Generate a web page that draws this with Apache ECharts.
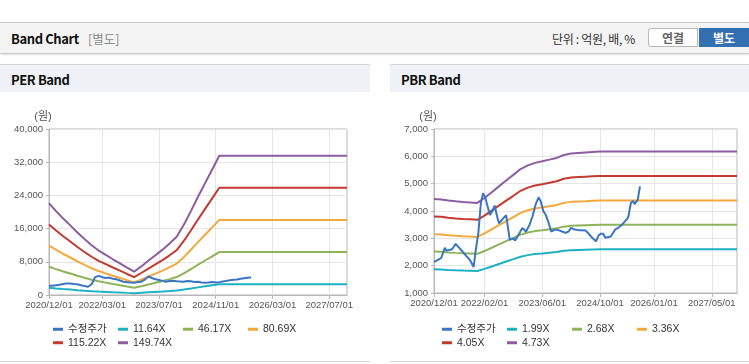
<!DOCTYPE html>
<html><head><meta charset="utf-8">
<script src="https://cdn.jsdelivr.net/npm/echarts@6/dist/echarts.min.js"></script>
<style>
body{margin:0;width:749px;height:364px;overflow:hidden;background:#fff;position:relative;font-family:'Noto Sans CJK KR','Liberation Sans',sans-serif}
.topbar{position:absolute;left:0;top:22px;width:749px;height:30px;background:#f4f4f4;border-top:1px solid #c6c6c6;border-bottom:1px solid #c9c9c9;box-shadow:0 1px 2px rgba(0,0,0,0.12)}
.title{position:absolute;left:11px;top:6px;font-size:13px;font-weight:bold;color:#111;letter-spacing:-0.4px}
.sub{position:absolute;left:88px;top:6px;font-size:12.5px;color:#8a8a8a}
.unit{position:absolute;left:552px;top:7px;font-size:12px;color:#333;letter-spacing:-0.3px}
.btn1{position:absolute;left:648px;top:5px;width:50px;height:19px;background:#fff;border:1px solid #b8b8b8;border-radius:3px 0 0 3px;box-sizing:border-box;font-size:12px;font-weight:bold;color:#666;text-align:center;line-height:17px}
.btn2{position:absolute;left:699px;top:5px;width:50px;height:19px;background:#3270b2;font-size:12px;font-weight:bold;color:#fff;text-align:center;line-height:19px}
.panel{position:absolute;top:64px;height:298px;border-top:1px solid #d4d4d4;border-bottom:1px solid #d4d4d4;box-sizing:border-box;background:#fff}
.phead{position:absolute;left:0;top:0;right:0;height:27px;background:#eef1f6}
.ptitle{position:absolute;left:11px;top:5px;font-size:13px;font-weight:bold;color:#111;letter-spacing:-0.4px}
.chart{position:absolute;top:92px;height:270px}
</style></head><body>
<div class="topbar"><div class="title">Band Chart</div><div class="sub">[별도]</div>
<div class="unit">단위 : 억원, 배, %</div><div class="btn1">연결</div><div class="btn2">별도</div></div>
<div class="panel" style="left:0;width:370px"><div class="phead"><div class="ptitle">PER Band</div></div></div>
<div class="panel" style="left:390px;width:359px"><div class="phead"><div class="ptitle">PBR Band</div></div></div>
<div id="per" class="chart" style="left:0;width:370px"></div>
<div id="pbr" class="chart" style="left:390px;width:359px"></div>
<script>
// x values are month offsets from 2020/12
const perTickMonths = [0, 15, 31, 47, 63, 79];
const perTickLabels = ['2020/12/01','2022/03/01','2023/07/01','2024/11/01','2026/03/01','2027/07/01'];
const pbrTickMonths = [0, 14, 30, 46, 61, 77];
const pbrTickLabels = ['2020/12/01','2022/02/01','2023/06/01','2024/10/01','2026/01/01','2027/05/01'];

const perNames = ['수정주가','11.64X','46.17X','80.69X','115.22X','149.74X'];
const pbrNames = ['수정주가','1.99X','2.68X','3.36X','4.05X','4.73X'];

const perBandMonths = [0,2,4,6,8,10,12,14,16,18,20,22,24,26,28,30,32,34,36,38,40,42,44,46,48,84];
const per1164 = [1718,1571,1432,1304,1170,1048,931,832,751,669,594,512,437,535,640,745,850,966,1092,1315,1571,1839,2095,2351,2610,2610];
const per4617 = [6815,6233,5679,5171,4640,4155,3694,3301,2978,2655,2355,2031,1731,2124,2539,2955,3370,3832,4331,5217,6233,7295,8311,9326,10351,10351];
const per8069 = [11910,10893,9925,9037,8109,7262,6455,5769,5205,4640,4115,3550,3026,3712,4438,5164,5890,6697,7569,9118,10893,12749,14524,16299,18091,18091];
const per11522 = [17007,15555,14172,12905,11580,10370,9218,8238,7432,6625,5876,5070,4321,5300,6337,7374,8411,9563,10808,13020,15555,18205,20740,23274,25832,25832];
const per14974 = [22102,20215,18418,16771,15049,13477,11979,10706,9658,8610,7637,6589,5615,6888,8236,9583,10931,12428,14046,16921,20215,23659,26953,30247,33572,33572];

const perPriceMonths = [0,1,2,3,4,5,6,7,8,9,10,11,12,13,14,15,16,17,18,19,20,21,22,23,24,25,26,27,28,29,30,31,32,33,34,35,36,37,38,39,40,41,42,43,44,45,46,47,48,49,50,51,52,53,54,55,56,57];
const perPrice = [2200,2250,2350,2450,2650,2800,2750,2650,2600,2350,2150,2000,2600,4300,4600,4300,4100,4200,3900,3800,3500,3200,3100,3000,2950,3100,3200,3700,4450,4100,3800,3600,3400,3200,3350,3450,3300,3250,3200,3350,3300,3150,3200,3000,2950,3000,3150,3000,3100,3250,3400,3550,3650,3750,3900,4050,4150,4200];

const pbrBandMonths = [0,2,4,6,8,10,12,14,16,18,20,22,24,26,28,30,32,34,36,38,40,42,44,46,48,84];
const pbr199 = [1868,1861,1845,1833,1823,1815,1807,1883,1972,2062,2151,2239,2328,2386,2424,2448,2474,2499,2545,2567,2575,2583,2591,2597,2597,2597];
const pbr268 = [2516,2506,2484,2468,2455,2444,2433,2535,2656,2776,2897,3015,3136,3213,3264,3296,3331,3366,3428,3457,3468,3479,3489,3497,3497,3497];
const pbr336 = [3154,3142,3115,3095,3078,3064,3051,3179,3330,3481,3632,3780,3931,4029,4092,4133,4176,4220,4297,4334,4348,4361,4375,4385,4385,4385];
const pbr405 = [3802,3787,3754,3730,3710,3694,3677,3831,4014,4196,4378,4556,4739,4856,4933,4982,5034,5087,5180,5225,5241,5257,5273,5285,5285,5285];
const pbr473 = [4440,4423,4385,4356,4333,4314,4295,4475,4687,4900,5113,5321,5534,5671,5761,5818,5879,5941,6050,6102,6121,6140,6158,6173,6173,6173];

const pbrPriceMonths = [0,1,2,3,3.5,4,5,6,7,8,9,10,11,11.5,12.3,13,13.6,14.2,15,15.5,16.2,16.8,17.5,18,19,20,20.5,21,22,22.5,23.5,24.5,25.5,26.5,27.3,28.2,29,29.6,30.3,31,31.7,32.5,33.5,34.5,35.5,36.5,37.3,38,39,40,41,42,43,44,44.9,45.6,46.2,46.9,47.5,47.9,49,50.2,51,51.6,52.3,52.9,53.5,53.9,54.3,54.6,55.2,55.6,56,56.5,57.1];
const pbrPrice = [2135,2200,2280,2650,2550,2500,2600,2800,2650,2500,2350,2200,1950,2500,3200,4300,4650,4500,4100,3850,4000,4200,3800,3550,3700,3850,3400,2950,3000,2920,3150,3380,3250,3500,3800,4250,4500,4350,4000,3850,3600,3250,3320,3300,3250,3200,3250,3380,3320,3300,3300,3290,3150,3000,2890,3100,3170,3170,3020,2975,3065,3315,3380,3440,3520,3620,3700,3800,4100,4300,4360,4250,4195,4415,4900];

const colors = ['#3a75c4','#1fb0c2','#8fb35a','#f2a83a','#c23a30','#8e5ca0'];
const FONT = "'Liberation Sans','Noto Sans CJK KR',sans-serif";

function zip(xs, ys){ return xs.map((x,i)=>[x, ys[i]]); }

function build(cfg){
  const legendPos = [[53,0],[118,0],[183,0],[248,0],[53,1],[118,1]];
  const legends = cfg.names.map((n,i)=>({
    data:[n], left: legendPos[i][0]+cfg.legendShift, top: 232 + legendPos[i][1]*13.5, padding:0,
    icon:'rect', itemWidth:10, itemHeight:3, selectedMode:false,
    textStyle:{fontSize:10.5, color:'#333', fontFamily:FONT}
  }));
  const series = cfg.data.map((d,i)=>({
    name: cfg.names[i], type:'line', data:d, showSymbol:false, symbol:'none',
    lineStyle:{width:2, color:colors[i]}, itemStyle:{color:colors[i]},
    z: i===0 ? 3 : 2
  }));
  // draw price last so it is on top
  const ordered = series.slice(1).concat([series[0]]);
  const lookup = (ticks, labels) => v => { const k = ticks.indexOf(Math.round(v)); return k>=0 ? labels[k] : ''; };
  return {
    animation:false,
    textStyle:{fontFamily:FONT},
    grid:{left:cfg.gridLeft, top:37, width:cfg.gridWidth, height:cfg.gridHeight, show:true, borderColor:'#b7b7b7', borderWidth:1, backgroundColor:'transparent'},
    xAxis:{type:'value', min:0, max:84,
      axisLine:{lineStyle:{color:'#b7b7b7'}},
      axisTick:{show:true, customValues:cfg.ticks, length:4, lineStyle:{color:'#b7b7b7'}},
      axisLabel:{customValues:cfg.ticks, formatter:lookup(cfg.ticks,cfg.tickLabels), fontSize:9.5, color:'#555', margin:6, hideOverlap:false},
      splitLine:{show:true, lineStyle:{color:'#e6e6e6'}}},
    yAxis:{type:'value', min:cfg.ymin, max:cfg.ymax, interval:cfg.yint,
      name:'(원)', nameLocation:'end', nameGap:7, nameTextStyle:{fontSize:11, color:'#555', align:'center', padding:[0,12,0,0]},
      axisLine:{show:true, lineStyle:{color:'#b7b7b7'}},
      axisTick:{show:true, length:3, lineStyle:{color:'#b7b7b7'}},
      axisLabel:{fontSize:9.5, color:'#555', margin:6, formatter:v=>v.toLocaleString('en-US')},
      splitLine:{show:true, lineStyle:{color:'#e6e6e6'}}},
    legend:legends,
    series:ordered
  };
}

const perChart = echarts.init(document.getElementById('per'));
perChart.setOption(build({
  names:perNames, legendShift:0, gridLeft:49, gridWidth:298, gridHeight:166,
  ticks:perTickMonths, tickLabels:perTickLabels, ymin:0, ymax:40000, yint:8000,
  data:[zip(perPriceMonths,perPrice), zip(perBandMonths,per1164), zip(perBandMonths,per4617), zip(perBandMonths,per8069), zip(perBandMonths,per11522), zip(perBandMonths,per14974)]
}));
const pbrChart = echarts.init(document.getElementById('pbr'));
pbrChart.setOption(build({
  names:pbrNames, legendShift:-1, gridLeft:44, gridWidth:303, gridHeight:164,
  ticks:pbrTickMonths, tickLabels:pbrTickLabels, ymin:1000, ymax:7000, yint:1000,
  data:[zip(pbrPriceMonths,pbrPrice), zip(pbrBandMonths,pbr199), zip(pbrBandMonths,pbr268), zip(pbrBandMonths,pbr336), zip(pbrBandMonths,pbr405), zip(pbrBandMonths,pbr473)]
}));
</script>
</body></html>
